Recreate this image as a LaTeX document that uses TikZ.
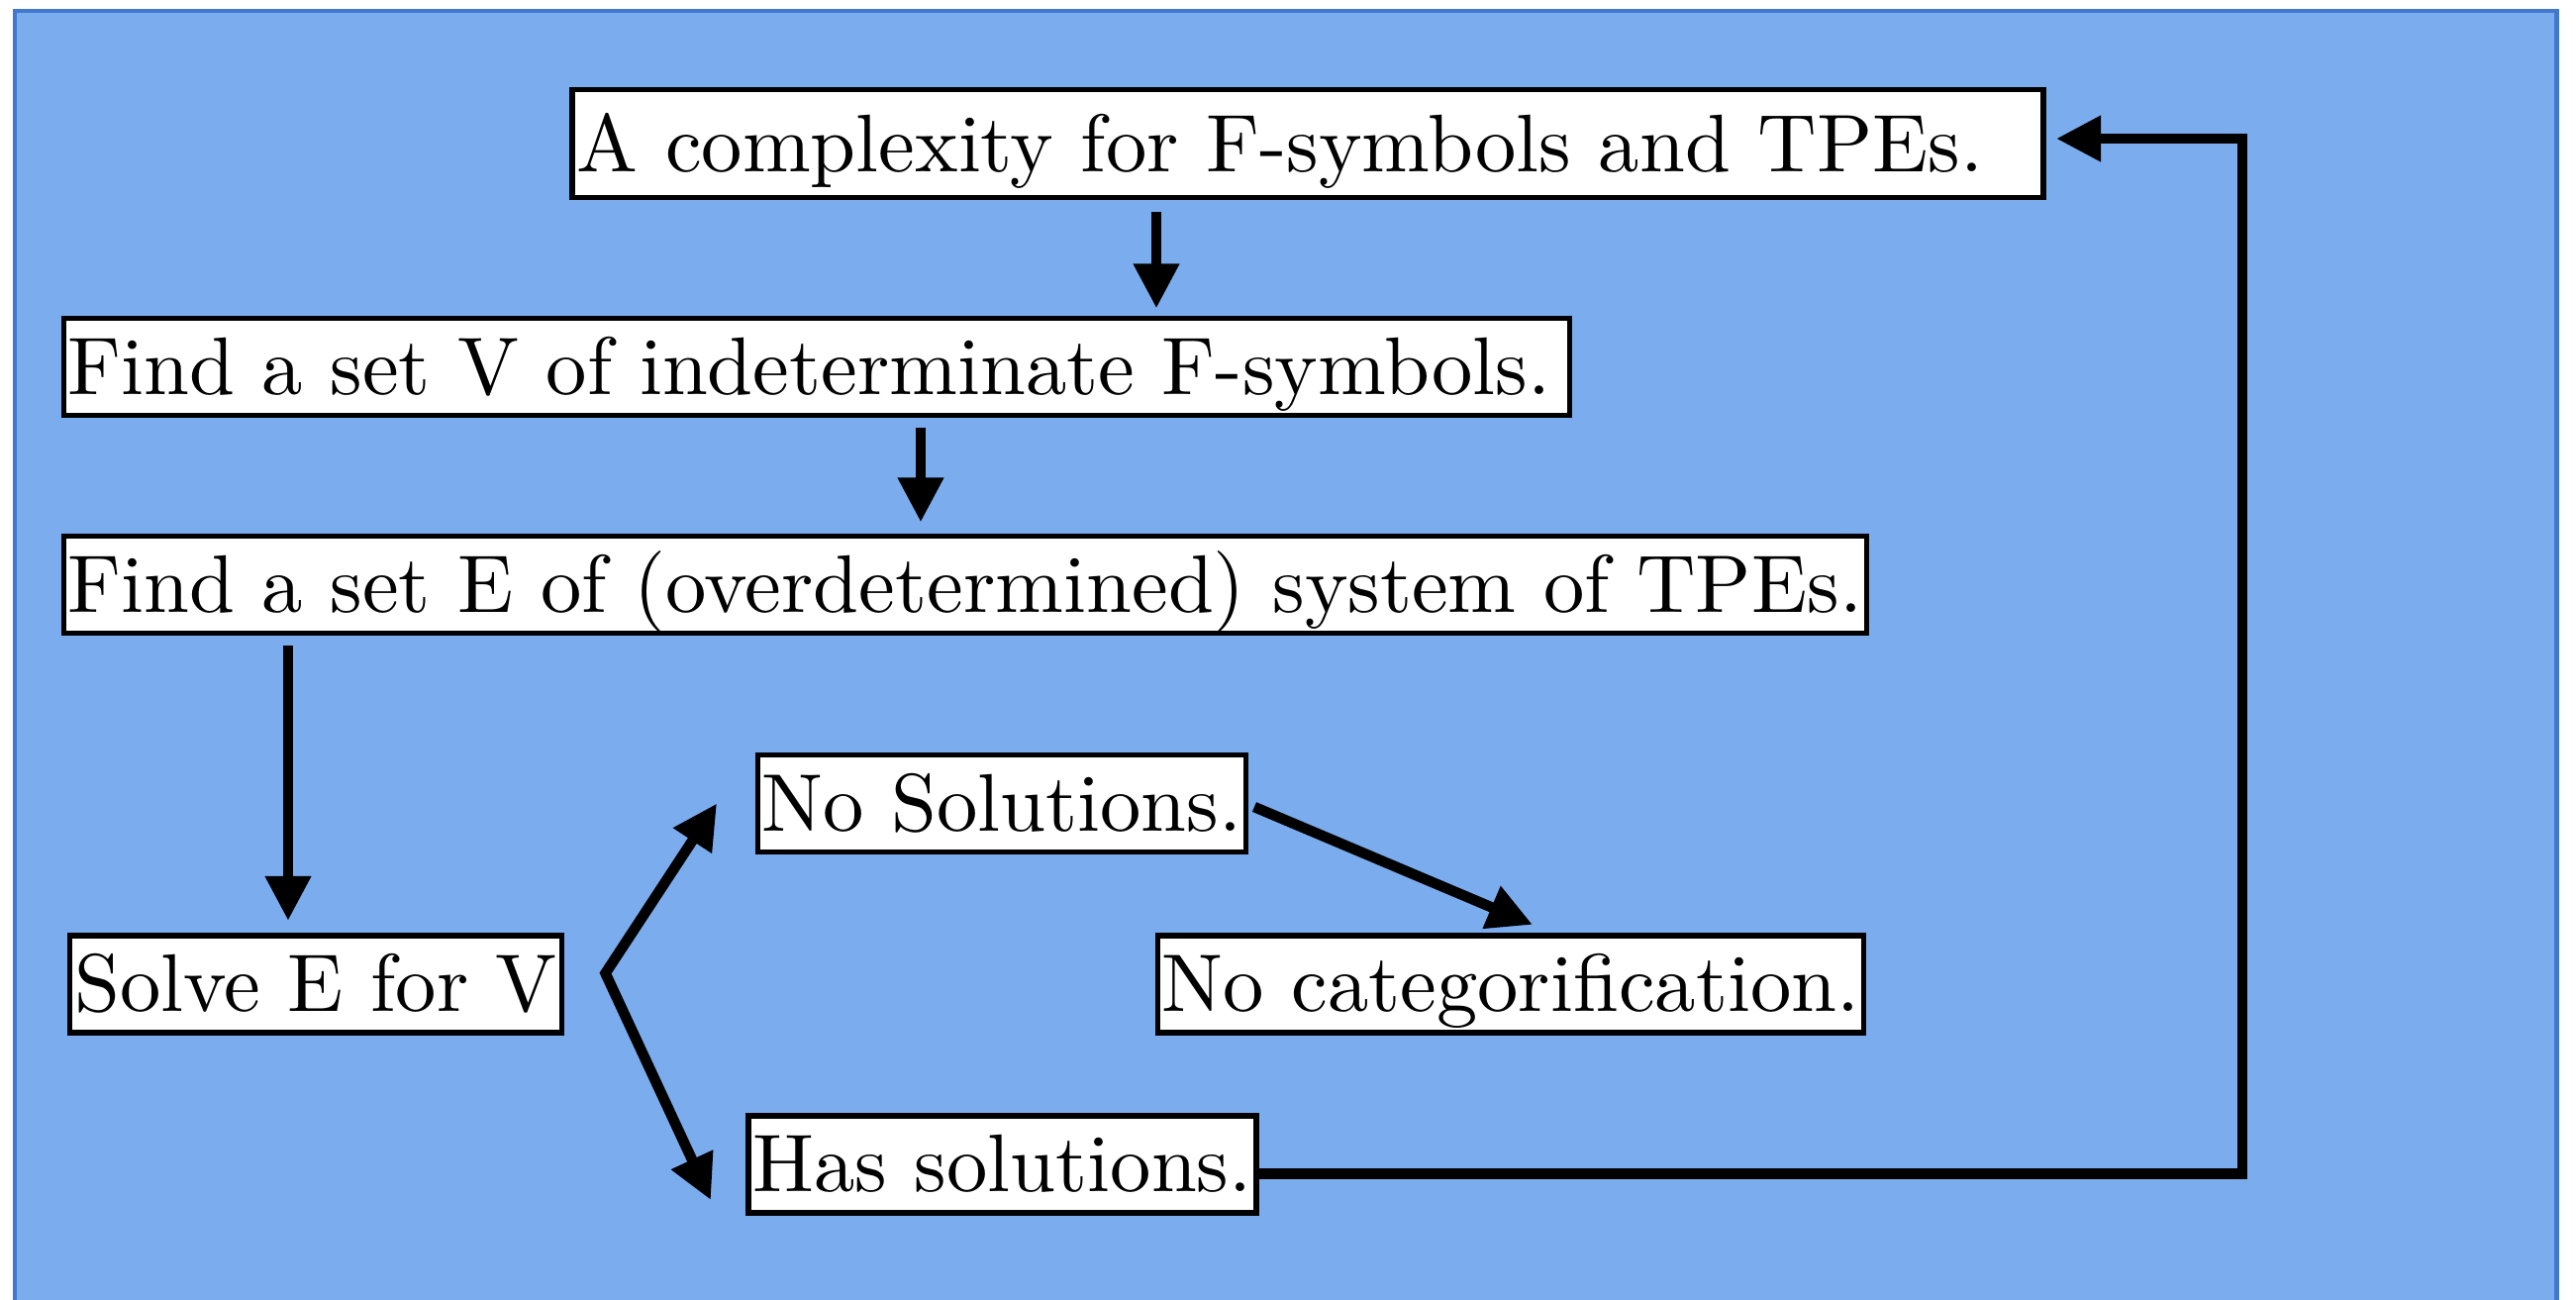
\documentclass[tikz,border=0pt]{standalone}
\usepackage{tikz}
\usetikzlibrary{arrows.meta}
\font\boxfont="[lmroman10-regular]:+tlig;" at 23.5pt
\tikzset{box/.style = {draw, fill = white, line width = 1.5pt, inner xsep = 0.045cm, inner ysep = 0.02cm, text height = 0.745cm, text depth = 0.195cm, font = \boxfont}}
\tikzset{conn/.style = {line width = 3pt, ->}}
\tikzset{>={Triangle[length = 12.8pt, width = 12.5pt]}}
\definecolor{bgblue}{RGB}{123, 172, 237}
\definecolor{edgeblue}{RGB}{66, 119, 206}

\begin{document}
\begin{tikzpicture}
      \useasboundingbox (0, 0) rectangle (26.02, 13.12);
      \draw [fill = bgblue, draw = edgeblue, line width = 1.4pt] (0.15, 13.01) rectangle (25.82, -0.5);

      \node [box, text height = 0.81cm, text depth = 0.24cm] (complexity) at (13.21, 11.67) {A complexity for F-symbols and TPEs.\kern0.68em};
      \node [box, anchor = west] (findv) at (0.615, 9.415) {Find a set V of indeterminate F-symbols.\kern0.18em};
      \node [box, anchor = west] (finde) at (0.615, 7.215) {Find a set E of (overdetermined) system of TPEs.};
      \node [box] (solve) at (3.19, 3.18) {Solve E for V};
      \node [box] (nosol) at (10.12, 5.005) {No Solutions.};
      \node [box] (nocat) at (15.26, 3.18) {No categorification.};
      \node [box] (hassol) at (10.125, 1.36) {Has solutions.};

      \coordinate (downone) at ([xshift = -1.53cm] complexity.south);
      \draw [conn, shorten <= 0.115cm, shorten >= 0.075cm] (downone) -- (downone |- findv.north);

      \coordinate (downtwo) at ([xshift = 8.685cm] findv.south west);
      \draw [conn, shorten <= 0.095cm, shorten >= 0.115cm] (downtwo) -- (downtwo |- finde.north);

      \coordinate (downthree) at ([xshift = 2.295cm] finde.south west);
      \draw [conn, shorten <= 0.095cm, shorten >= 0.125cm] (downthree) -- (downthree |- solve.north);

      \coordinate (fork) at ([xshift = 0.415cm, yshift = 0.11cm] solve.east);
      \draw [line width = 3pt, <->] ([xshift = -0.385cm] nosol.west) -- (fork) -- ([xshift = -0.355cm, yshift = -0.36cm] hassol.west);

      \draw [conn] ([xshift = 0.055cm, yshift = -0.035cm] nosol.east) -- ([xshift = 0.22cm, yshift = 0.085cm] nocat.north);

      \coordinate (turn) at ([xshift = 1.985cm, yshift = 0.05cm] complexity.east);
      \draw [conn] ([yshift = -0.095cm] hassol.east) -| (turn) -- ([xshift = 0.105cm, yshift = 0.05cm] complexity.east);
    \end{tikzpicture}
\end{document}
